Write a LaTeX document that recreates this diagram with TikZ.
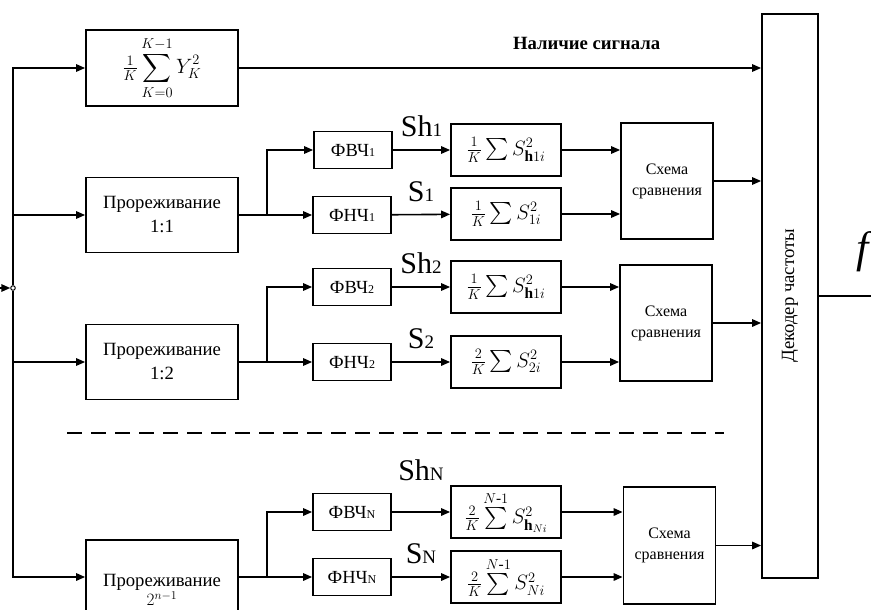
\documentclass[tikz,border=0pt]{standalone}
\usepackage{amsmath,amssymb}
\usepackage{fontspec}
\setmainfont{Liberation Serif}
\usetikzlibrary{arrows.meta,positioning,calc}
\newcommand{\lowidx}[1]{{\fontsize{12}{12}\selectfont #1}}
\newcommand{\lblidx}[1]{{\fontsize{19}{19}\selectfont #1}}

\begin{document}
\begin{tikzpicture}[x=1pt,y=-1pt,
  prbox/.style={draw,line width=1.8pt,align=center,inner sep=0pt,minimum width=152pt,minimum height=75pt,font=\fontsize{18.7}{24}\selectfont},
  fltbox/.style={draw,line width=1.8pt,inner sep=0pt,minimum width=78pt,minimum height=37pt,font=\fontsize{18.5}{20}\selectfont},
  sumbox/.style={draw,line width=1.8pt,inner sep=0pt,minimum width=110pt,minimum height=52pt,font=\fontsize{22}{26}\selectfont},
  cmpbox/.style={draw,line width=1.8pt,align=center,inner sep=0pt,minimum width=92pt,minimum height=116pt,font=\fontsize{16}{21}\selectfont},
  arr/.style={-{Triangle[length=9pt,width=7.5pt]},line width=1.6pt},
  lbl/.style={font=\fontsize{30}{30}\selectfont,inner sep=0pt}]
\useasboundingbox (0,0) rectangle (871,610);
% left column
\node[prbox,minimum height=76pt,font=\fontsize{20}{24}\selectfont] (avg) at (162,68) {$\tfrac{1}{K}\displaystyle\sum_{K=0}^{K-1} Y_K^2$};
\node[prbox] (thin1) at (162,215) {Прореживание\\1:1};
\node[prbox] (thin2) at (162,362) {Прореживание\\1:2};
\node[prbox,minimum height=100pt] (thinN) at (162,590) {Прореживание\\[-5pt]$2^{n-1}$};
% filters
\node[fltbox] (hp1) at (353,150) {ФВЧ\lowidx{1}};
\node[fltbox] (lp1) at (352,215) {ФНЧ\lowidx{1}};
\node[fltbox] (hp2) at (352,287) {ФВЧ\lowidx{2}};
\node[fltbox] (lp2) at (352,362) {ФНЧ\lowidx{2}};
\node[fltbox] (hpN) at (352,512) {ФВЧ\lowidx{N}};
\node[fltbox] (lpN) at (352,577) {ФНЧ\lowidx{N}};
% energy estimates
\node[sumbox] (esh1) at (506,150) {$\tfrac{1}{K}\sum S^2_{\mathbf{h}1i}$};
\node[sumbox] (es1) at (506,214) {$\tfrac{1}{K}\sum S^2_{1i}$};
\node[sumbox] (esh2) at (506,287) {$\tfrac{1}{K}\sum S^2_{\mathbf{h}1i}$};
\node[sumbox] (es2) at (506,362) {$\tfrac{2}{K}\sum S^2_{2i}$};
\node[sumbox] (eshN) at (506,512) {$\tfrac{2}{K}\sum\limits^{N\text{-}1} S^2_{\mathbf{h}_{Ni}}$};
\node[sumbox] (esN) at (506,577) {$\tfrac{2}{K}\sum\limits^{N\text{-}1} S^2_{Ni}$};
% comparators and decoder
\node[cmpbox] (cmp1) at (667,181) {Схема\\сравнения};
\node[cmpbox] (cmp2) at (666,323) {Схема\\сравнения};
\node[cmpbox,minimum height=117pt] (cmpN) at (669.5,545.5) {Схема\\сравнения};
\node[draw,line width=1.8pt,inner sep=0pt,minimum width=56pt,minimum height=564pt] (fdec) at (790,296) {};
\node[rotate=90,font=\fontsize{18.7}{22}\selectfont] (fdecl) at (fdec) {Декодер частоты};
\node[font=\itshape\fontsize{44}{44}\selectfont,inner sep=0pt,anchor=west] (fsym) at (856,252) {f};
% input
\coordinate (src) at (0,288);
\node[draw,circle,inner sep=0pt,minimum size=4.5pt,line width=1pt,fill=white] (jn) at (13,288) {};
\draw[arr] (src) -- (jn);
\draw[arr] (jn) |- (avg);
\draw[arr] (jn) |- (thin1);
\draw[arr] (jn) |- (thin2);
\draw[arr] (jn) |- (thinN.west |- lpN);
% branches
\coordinate (b1) at (267,215);
\coordinate (b2) at (267,362);
\coordinate (bN) at (267,577);
\draw[arr] (thin1) -- (lp1);
\draw[arr] (b1) |- (hp1);
\draw[arr] (thin2) -- (lp2);
\draw[arr] (b2) |- (hp2);
\draw[arr] (thinN.east |- lpN) -- (lpN);
\draw[arr] (bN) |- (hpN);
% filter outputs
\draw[arr] (hp1) -- node[lbl,above=12pt]{Sh\lblidx{1}} (esh1);
\draw[arr] (lp1) -- node[lbl,above=12pt]{S\lblidx{1}} (es1);
\draw[arr] (hp2) -- node[lbl,above=12pt]{Sh\lblidx{2}} (esh2);
\draw[arr] (lp2) -- node[lbl,above=12pt]{S\lblidx{2}} (es2);
\draw[arr] (hpN) -- node[lbl,above=30pt]{Sh\lblidx{N}} (eshN);
\draw[arr] (lpN) -- node[lbl,above=12pt]{S\lblidx{N}} (esN);
\draw[arr] (esh1) -- (esh1 -| cmp1.west);
\draw[arr] (es1) -- (es1 -| cmp1.west);
\draw[arr] (esh2) -- (esh2 -| cmp2.west);
\draw[arr] (es2) -- (es2 -| cmp2.west);
\draw[arr] (eshN) -- (eshN -| cmpN.west);
\draw[arr] (esN) -- (esN -| cmpN.west);
% into decoder
\draw[arr] (avg) -- node[pos=0.666,above=14pt,font=\bfseries\fontsize{18.7}{22}\selectfont]{Наличие сигнала} (avg -| fdec.west);
\draw[arr] (cmp1) -- (cmp1 -| fdec.west);
\draw[arr] (cmp2) -- (cmp2 -| fdec.west);
\draw[arr] (cmpN) -- (cmpN -| fdec.west);
\coordinate (fout) at (871,296);
\draw[line width=1.6pt] (fdec) -- (fout);
% separator
\coordinate (dl) at (67,433);
\coordinate (dr) at (724,433);
\draw[line width=1.8pt,dash pattern=on 15pt off 9pt] (dl) -- (dr);
\end{tikzpicture}
\end{document}
